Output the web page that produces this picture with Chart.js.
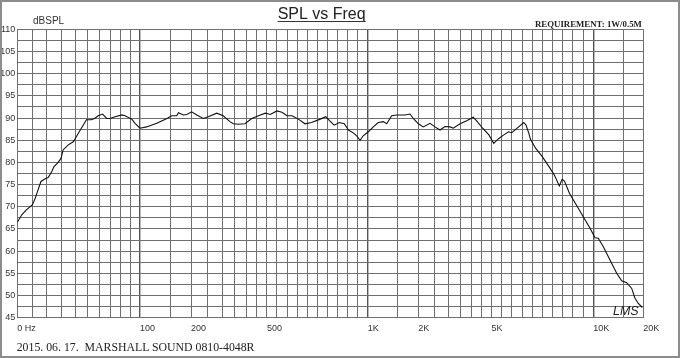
<!DOCTYPE html>
<html><head><meta charset="utf-8">
<script src="https://cdn.jsdelivr.net/npm/chart.js@4.4.1/dist/chart.umd.min.js"></script>
<style>
html,body{margin:0;padding:0;background:#fff;}
#wrap{position:relative;width:680px;height:358px;overflow:hidden;background:#fff;}
#c{display:block;}
#frame{position:absolute;left:0;top:0;width:676px;height:354px;border:2px solid #8c8c8c;pointer-events:none;}
.t{position:absolute;white-space:pre;line-height:1;}
</style></head><body>
<div id="wrap">
<canvas id="c" width="680" height="358"></canvas>
<div class="t" style="left:33px;top:15px;font:10px 'Liberation Sans',Arial,sans-serif;color:#333;">dBSPL</div>
<div class="t" style="left:535px;top:18.7px;font:bold 8.8px 'Liberation Serif','Times New Roman',serif;color:#222;">REQUIREMENT: 1W/0.5M</div>
<div class="t" style="left:16.7px;top:339.7px;font:11.8px 'Liberation Serif','Times New Roman',serif;color:#222;">2015. 06. 17.  MARSHALL SOUND 0810-4048R</div>
<div class="t" style="left:613px;top:304px;font:italic 12.5px 'Liberation Sans',Arial,sans-serif;color:#222;">LMS</div>
<div id="frame"></div>
</div>
<script>
// ---- data ----
const titleText = 'SPL vs Freq';
const freqHz = [0, 3, 6, 10, 12, 14, 16, 19, 21, 23.5, 25, 28, 30, 31.5, 35, 39, 41, 45, 49, 53, 56, 59, 63, 67, 70, 75, 82, 85, 92, 95, 100, 111, 128, 145, 154, 166, 170, 182, 190, 202, 217, 236, 251, 281, 305, 333, 347, 367, 393, 425, 458, 492, 517, 550, 575, 600, 625, 658, 689, 721, 762, 792, 811, 834, 859, 884, 905, 930, 945, 962, 978, 1010, 1095, 1179, 1264, 1321, 1405, 1490, 1683, 1802, 1881, 2000, 2156, 2366, 2525, 2704, 2882, 3069, 3202, 3472, 3791, 4107, 4266, 4573, 4877, 5115, 5365, 5608, 5844, 6000, 6335, 6585, 6700, 6835, 6920, 7170, 7500, 7835, 8085, 8335, 8470, 8585, 8835, 9170, 9500, 9835, 10283, 10833, 11667, 12783, 13900, 14733, 15850, 17100, 17925, 18750, 19750];
const splDb = [66.5, 68.2, 69.3, 70.4, 71.9, 73.8, 75.7, 76.3, 76.6, 77.9, 79.0, 80.0, 80.9, 82.8, 83.9, 84.7, 85.8, 87.7, 89.6, 89.6, 89.9, 90.5, 90.9, 89.9, 89.9, 90.3, 90.7, 90.5, 89.7, 88.8, 87.7, 88.0, 88.8, 89.9, 90.5, 90.5, 91.2, 90.7, 90.8, 91.4, 90.7, 89.9, 90.3, 91.1, 90.5, 89.2, 88.7, 88.6, 88.7, 89.9, 90.5, 91.1, 90.8, 91.6, 91.3, 90.5, 90.5, 89.7, 88.7, 89.0, 89.7, 90.3, 89.4, 88.4, 89.0, 88.7, 87.3, 86.6, 86.0, 85.0, 86.0, 86.9, 88.0, 89.0, 89.2, 88.7, 90.5, 90.7, 90.7, 90.9, 89.9, 88.7, 88.0, 88.8, 88.0, 87.3, 88.1, 88.0, 87.7, 88.7, 89.4, 90.2, 89.4, 87.7, 86.2, 84.3, 85.4, 86.2, 86.9, 86.7, 88.0, 89.0, 88.4, 86.6, 85.2, 83.2, 81.3, 79.0, 77.2, 74.7, 76.2, 75.8, 73.0, 70.4, 67.8, 65.2, 63.0, 62.9, 61.0, 58.0, 55.0, 53.3, 52.9, 51.6, 49.4, 48.2, 47.3];
const xTickValues = [0, 100, 200, 500, 1000, 2000, 5000, 10000, 20000];
const xTickLabels = ['0 Hz', '100', '200', '500', '1K', '2K', '5K', '10K', '20K'];
const gridFreqs = [0,10,20,30,40,50,60,70,80,90,100,
  150,200,250,300,350,400,450,500,550,600,650,700,750,800,850,900,950,1000,
  1500,2000,2500,3000,3500,4000,4500,5000,5500,6000,6500,7000,7500,8000,8500,9000,9500,10000,
  15000,20000];

// ---- axis geometry of the printed chart paper (relative ruling of each grid frequency) ----
const paperRuling = [0,15,29.4,43.7,57.7,70.4,82,92.7,102.7,112.7,122.7,
  152.7,173.7,190.7,204.7,216.7,229.4,239.5,249.6,259.6,269.7,279.8,289.9,300.0,310.0,320.1,330.2,340.3,350.4,
  380,401,417,431,443.4,453.7,463.9,474.1,484.3,494.5,504.7,514.8,525.0,535.2,545.4,555.6,565.8,576.0,
  606,626];
function warp(f){
  const F=gridFreqs, R=paperRuling, tot=R[R.length-1];
  if (f<=F[0]) return 0;
  for (let i=0;i<F.length-1;i++){
    if (f<=F[i+1]) return (R[i]+(f-F[i])/(F[i+1]-F[i])*(R[i+1]-R[i]))/tot;
  }
  return 1;
}
function unwarp(d){
  const F=gridFreqs, R=paperRuling, tot=R[R.length-1], r=d*tot;
  if (r<=0) return F[0];
  for (let i=0;i<R.length-1;i++){
    if (r<=R[i+1]) return F[i]+(r-R[i])/(R[i+1]-R[i])*(F[i+1]-F[i]);
  }
  return F[F.length-1];
}
class PaperScale extends Chart.LinearScale {
  getPixelForValue(v){ return v==null ? NaN : this.getPixelForDecimal(warp(v)); }
  getValueForPixel(p){ return unwarp(this.getDecimalForPixel(p)); }
}
PaperScale.id = 'paper';
PaperScale.defaults = Chart.LinearScale.defaults;
Chart.register(PaperScale);

const decades = new Set([100,1000,10000]);
const gridColor = '#6f6f6f';
const sans = "'Liberation Sans', Arial, sans-serif";

const underline = {
  id:'underline',
  afterDraw(chart){
    const tb = chart.titleBlock; if(!tb) return;
    const ctx = chart.ctx;
    ctx.save();
    ctx.font = '16px ' + sans;
    const w = ctx.measureText(titleText).width;
    const cx = tb.left + tb.width/2;
    ctx.strokeStyle = '#333'; ctx.lineWidth = 1;
    ctx.beginPath(); ctx.moveTo(cx-w/2, 21.5); ctx.lineTo(cx+w/2, 21.5); ctx.stroke();
    ctx.restore();
  }
};

new Chart(document.getElementById('c'), {
  type:'line',
  data:{datasets:[{
    data: freqHz.map((f,i)=>({x:f, y:splDb[i]})),
    borderColor:'#111', borderWidth:1.1, pointRadius:0, tension:0, fill:false
  }]},
  options:{
    responsive:false, animation:false, devicePixelRatio:1,
    layout:{padding:{left:0,right:36.7,top:0.1,bottom:20.3}},
    plugins:{
      legend:{display:false}, tooltip:{enabled:false},
      title:{display:true,text:titleText,color:'#222',
        font:{family:sans,size:16,weight:'normal',lineHeight:1.2},
        padding:{top:4.7,bottom:5.3}}
    },
    scales:{
      x:{type:'paper', min:0, max:20000,
        afterBuildTicks:s=>{ s.ticks = gridFreqs.map(v=>({value:v})); },
        afterFit:s=>{ s.height = 20; },
        border:{display:false},
        grid:{drawTicks:false, color:ctx=>decades.has(ctx.tick&&ctx.tick.value)?'#555':gridColor,
          lineWidth:ctx=>decades.has(ctx.tick&&ctx.tick.value)?1.4:1},
        ticks:{autoSkip:false, maxRotation:0, minRotation:0, align:'start', padding:5.5, color:'#333',
          font:{family:sans,size:9},
          callback:v=>{ const i=xTickValues.indexOf(v); return i<0?'':xTickLabels[i]; }}
      },
      y:{type:'linear', min:45, max:110,
        afterFit:s=>{ s.width = 17.3; },
        border:{display:false},
        grid:{drawTicks:false, color:gridColor, lineWidth:1},
        ticks:{stepSize:2.5, autoSkip:false, padding:2, color:'#333', font:{family:sans,size:9},
          callback:v=> (v%5===0 ? String(v) : '')}
      }
    }
  },
  plugins:[underline]
});
</script>
</body></html>
